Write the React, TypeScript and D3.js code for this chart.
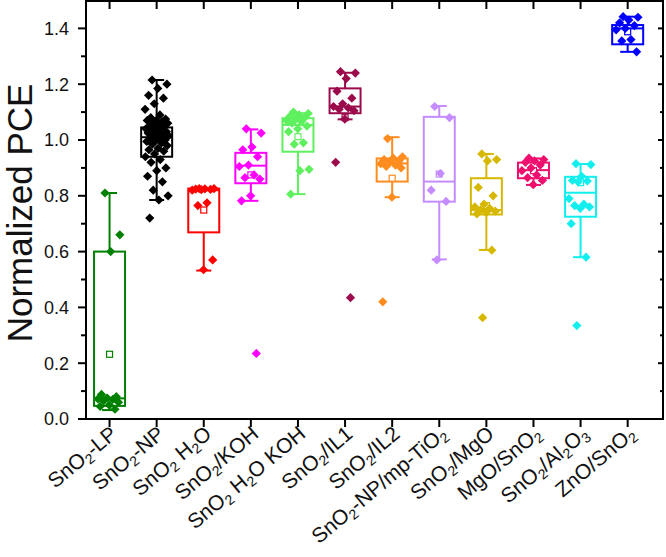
import React from "react";
import * as d3 from "d3";

const categories = [
  "SnO_2-LP", "SnO_2-NP", "SnO_2 H_2O", "SnO_2/KOH", "SnO_2 H_2O KOH", "SnO_2/IL1",
  "SnO_2/IL2", "SnO_2-NP/mp-TiO_2", "SnO_2/MgO", "MgO/SnO_2", "SnO_2/Al_2O_3", "ZnO/SnO_2",
];
const colors = [
  "#008000", "#000000", "#ff0000", "#ff00ff", "#5ff05f", "#9b0a4b",
  "#ff8c1f", "#c58cff", "#d6b800", "#ef0f6e", "#10eeee", "#0000ff",
];
const q1 = [0.047, 0.94, 0.669, 0.845, 0.958, 1.096, 0.851, 0.779, 0.733, 0.863, 0.725, 1.343];
const median = [0.074, 1.01, 0.82, 0.908, 1.054, 1.12, 0.916, 0.851, 0.749, 0.892, 0.811, 1.40];
const q3 = [0.60, 1.045, 0.826, 0.954, 1.078, 1.185, 0.934, 1.083, 0.863, 0.919, 0.868, 1.412];
const whiskerLow = [0.032, 0.785, 0.532, 0.782, 0.806, 1.074, 0.795, 0.572, 0.606, 0.839, 0.58, 1.316];
const whiskerHigh = [0.81, 1.215, 0.826, 1.038, 1.096, 1.241, 1.01, 1.122, 0.95, 0.934, 0.914, 1.442];
const means = [0.232, 1.0, 0.749, 0.875, 1.012, 1.08, 0.863, 0.878, 0.765, 0.89, 0.847, 1.388];

const pLP = [0.81, 0.66, 0.60, 0.088, 0.08, 0.075, 0.072, 0.07, 0.065, 0.06, 0.05, 0.045, 0.035];
const pNP = [1.215, 1.20, 1.185, 1.16, 1.15, 1.13, 1.11, 1.09, 1.08, 1.075, 1.07, 1.07, 1.065, 1.06, 1.06,
  1.055, 1.05, 1.05, 1.045, 1.04, 1.04, 1.035, 1.03, 1.03, 1.025, 1.02, 1.02, 1.015, 1.01, 1.005, 1.0, 1.0,
  0.995, 0.99, 0.985, 0.98, 0.97, 0.965, 0.96, 0.95, 0.94, 0.93, 0.92, 0.90, 0.89, 0.87, 0.85, 0.82, 0.80,
  0.785, 0.72];
const pH2O = [0.826, 0.826, 0.825, 0.824, 0.823, 0.822, 0.82, 0.775, 0.765, 0.57, 0.535];
const pKOH = [1.04, 1.025, 0.975, 0.965, 0.94, 0.91, 0.905, 0.875, 0.865, 0.86, 0.80, 0.782, 0.235];
const pH2OKOH = [1.10, 1.095, 1.09, 1.085, 1.08, 1.075, 1.07, 1.065, 1.06, 1.05, 1.04, 1.03, 0.99, 0.985,
  0.895, 0.89, 0.806];
const pIL1 = [1.245, 1.24, 1.22, 1.175, 1.15, 1.13, 1.12, 1.115, 1.11, 1.105, 1.075, 0.92, 0.435];
const pIL2 = [1.005, 0.94, 0.935, 0.93, 0.925, 0.92, 0.915, 0.91, 0.905, 0.90, 0.795, 0.42];
const pTiO2 = [1.12, 1.08, 0.88, 0.82, 0.78, 0.57];
const pMgO = [0.95, 0.93, 0.925, 0.83, 0.80, 0.77, 0.76, 0.755, 0.75, 0.745, 0.74, 0.735, 0.605, 0.363];
const pMgOSnO2 = [0.935, 0.93, 0.925, 0.92, 0.91, 0.90, 0.89, 0.875, 0.865, 0.855, 0.84];
const pAl2O3 = [0.915, 0.912, 0.87, 0.855, 0.853, 0.85, 0.79, 0.77, 0.765, 0.76, 0.755, 0.70, 0.58, 0.335];
const pZnO = [1.442, 1.44, 1.43, 1.42, 1.41, 1.40, 1.395, 1.36, 1.355, 1.316];
const points = [pLP, pNP, pH2O, pKOH, pH2OKOH, pIL1, pIL2, pTiO2, pMgO, pMgOSnO2, pAl2O3, pZnO];

const yTicks = [0, 0.2, 0.4, 0.6, 0.8, 1.0, 1.2, 1.4];
const yMinor = [0.1, 0.3, 0.5, 0.7, 0.9, 1.1, 1.3, 1.5];

const FONT = "'Liberation Sans', Arial, sans-serif";

function parseLabel(s: string) {
  const parts: { t: string; sub: boolean }[] = [];
  let i = 0;
  let buf = "";
  while (i < s.length) {
    if (s[i] === "_" && i + 1 < s.length) {
      if (buf) parts.push({ t: buf, sub: false });
      buf = "";
      parts.push({ t: s[i + 1], sub: true });
      i += 2;
    } else {
      buf += s[i];
      i++;
    }
  }
  if (buf) parts.push({ t: buf, sub: false });
  return parts;
}

export default function App() {
  const W = 666, H = 557;
  const left = 86, right = 663, top = 1, bottom = 419;
  const x = d3.scaleLinear().domain([0.5, 12.75]).range([left, right]);
  const y = d3.scaleLinear().domain([0, 1.5]).range([bottom, 0.5]);
  const boxW = 31;
  const capW = 15;
  const r = 4.6;
  const diamond = `M0,${-r}L${r},0L0,${r}L${-r},0Z`;

  return (
    <svg width={W} height={H} style={{ position: "absolute", left: 0, top: 0, background: "#fff" }}
      fontFamily={FONT}>
      {categories.map((c, i) => {
        const cx = x(i + 1);
        const col = colors[i];
        return (
          <g key={c} stroke={col} fill="none" strokeWidth={2}>
            <line x1={cx} x2={cx} y1={y(q3[i])} y2={y(whiskerHigh[i])} />
            <line x1={cx} x2={cx} y1={y(q1[i])} y2={y(whiskerLow[i])} />
            <line x1={cx - capW / 2} x2={cx + capW / 2} y1={y(whiskerHigh[i])} y2={y(whiskerHigh[i])} />
            <line x1={cx - capW / 2} x2={cx + capW / 2} y1={y(whiskerLow[i])} y2={y(whiskerLow[i])} />
            <rect x={cx - boxW / 2} y={y(q3[i])} width={boxW} height={y(q1[i]) - y(q3[i])} />
            <line x1={cx - boxW / 2} x2={cx + boxW / 2} y1={y(median[i])} y2={y(median[i])} />
            <rect x={cx - 3} y={y(means[i]) - 3} width={6} height={6} strokeWidth={1.2} fill="#fff" />
          </g>
        );
      })}
      {points.map((arr, i) => {
        const cx = x(i + 1);
        return (
          <g key={"p" + i} fill={colors[i]}>
            {arr.map((v, j) => {
              const frac = ((j * 0.6180339 + 0.31) % 1) - 0.5;
              const dx = frac * 24;
              return <path key={j} d={diamond} transform={`translate(${cx + dx},${y(v)})`} />;
            })}
          </g>
        );
      })}
      <rect x={left} y={top} width={right - left} height={bottom - top} fill="none" stroke="#000" strokeWidth={2} />
      {yTicks.map((t) => (
        <g key={"yt" + t}>
          <line x1={left - 8} x2={left} y1={y(t)} y2={y(t)} stroke="#000" strokeWidth={2} />
          <line x1={right - 5} x2={right} y1={y(t)} y2={y(t)} stroke="#000" strokeWidth={2} />
          <text x={69} y={y(t)} dy="0.36em" textAnchor="end" fontSize={18} fill="#111">
            {t.toFixed(1)}
          </text>
        </g>
      ))}
      {yMinor.filter((t) => y(t) > top + 2).map((t) => (
        <g key={"ym" + t}>
          <line x1={left - 5} x2={left} y1={y(t)} y2={y(t)} stroke="#000" strokeWidth={2} />
          <line x1={right - 3} x2={right} y1={y(t)} y2={y(t)} stroke="#000" strokeWidth={2} />
        </g>
      ))}
      {categories.map((c, i) => {
        const cx = x(i + 1);
        const parts = parseLabel(c);
        return (
          <g key={"xt" + c}>
            <line x1={cx} x2={cx} y1={bottom} y2={bottom + 8} stroke="#000" strokeWidth={2} />
            <line x1={cx} x2={cx} y1={top} y2={top + 8} stroke="#000" strokeWidth={2} />
            <text transform={`translate(${cx + 9},${bottom + 17}) rotate(-40)`} textAnchor="end"
              fontSize={21} fill="#111">
              {parts.map((p, k) =>
                p.sub ? (
                  <tspan key={k} fontSize={14} dy={4}>{p.t}</tspan>
                ) : (
                  <tspan key={k} dy={k > 0 && parts[k - 1].sub ? -4 : 0}>{p.t}</tspan>
                )
              )}
            </text>
          </g>
        );
      })}
      <text transform={`translate(32,${(top + bottom) / 2 + 3}) rotate(-90)`} textAnchor="middle"
        fontSize={35} fill="#111">
        Normalized PCE
      </text>
    </svg>
  );
}
